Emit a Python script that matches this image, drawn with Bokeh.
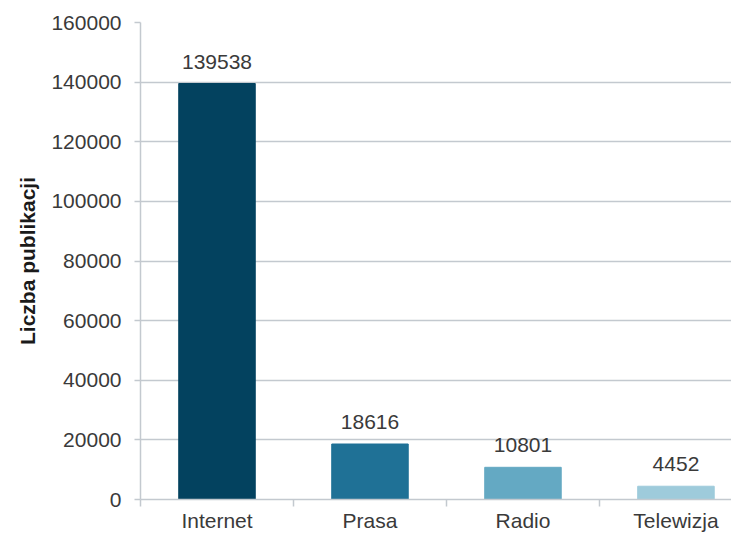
from bokeh.plotting import figure
from bokeh.models import Range1d, FixedTicker, ColumnDataSource
from bokeh.core.properties import value
from bokeh.embed import file_html
from bokeh.resources import INLINE

categories = ["Internet", "Prasa", "Radio", "Telewizja"]
counts = [139538, 18616, 10801, 4452]
colors = ["#03425f", "#1f7196", "#64a9c3", "#9ecbdb"]
y_ticks = [0, 20000, 40000, 60000, 80000, 100000, 120000, 140000, 160000]

FONT = "Liberation Sans"
TXT = "#3a3a3a"
GRID = "#c3c9cf"
FS = "21px"

xpos = [i + 0.5 for i in range(len(categories))]
src = ColumnDataSource(dict(x=xpos, top=counts, color=colors,
                            label=[str(c) for c in counts]))

p = figure(width=731, height=534, output_backend="svg", toolbar_location=None,
           x_range=Range1d(0, 3.863), y_range=Range1d(0, 160000),
           min_border_left=140, min_border_right=0, min_border_top=22,
           min_border_bottom=35)
p.outline_line_color = None
p.background_fill_color = "white"

p.vbar(x="x", top="top", width=0.5, color="color", source=src)
p.text(x="x", y="top", text="label", source=src, text_align="center",
       text_baseline="alphabetic", y_offset=-22, text_font=value(FONT),
       text_font_size=FS, text_color=TXT)

# x axis
xa = p.xaxis[0]
xa.ticker = FixedTicker(ticks=xpos, minor_ticks=[0, 1, 2, 3])
xa.major_label_overrides = {x: c for x, c in zip(xpos, categories)}
xa.major_tick_out = 0
xa.major_tick_in = 0
xa.minor_tick_out = 7
xa.minor_tick_in = 0
xa.minor_tick_line_color = GRID
xa.minor_tick_line_width = 1.5
xa.axis_line_color = GRID
xa.axis_line_width = 1.5
xa.major_label_standoff = 2
xa.major_label_text_font = FONT
xa.major_label_text_font_size = FS
xa.major_label_text_color = TXT
p.xgrid.visible = False

# y axis
ya = p.yaxis[0]
ya.ticker = FixedTicker(ticks=y_ticks)
ya.formatter.use_scientific = False
ya.major_tick_out = 6
ya.major_tick_in = 0
ya.minor_tick_line_color = None
ya.major_tick_line_color = GRID
ya.major_tick_line_width = 1.5
ya.axis_line_color = GRID
ya.axis_line_width = 1.5
ya.major_label_standoff = 13
ya.major_label_text_font = FONT
ya.major_label_text_font_size = FS
ya.major_label_text_color = TXT
ya.axis_label = "Liczba publikacji"
ya.axis_label_text_font = FONT
ya.axis_label_text_font_size = FS
ya.axis_label_text_font_style = "bold"
ya.axis_label_text_color = "#1a1a1a"
ya.axis_label_standoff = 9
p.ygrid.grid_line_color = GRID
p.ygrid.grid_line_width = 1.5

open("out.html", "w").write(file_html(p, INLINE))
